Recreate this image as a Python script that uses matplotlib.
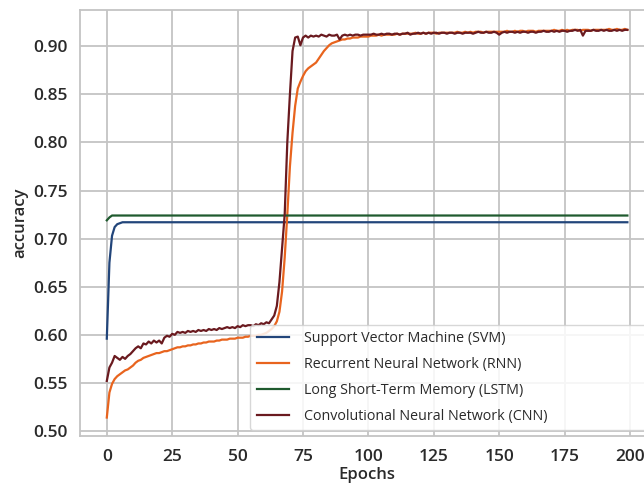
import matplotlib
matplotlib.use("Agg")
import matplotlib.pyplot as plt
from matplotlib.ticker import FormatStrFormatter

plt.rcParams['font.family'] = ['Open Sans', 'DejaVu Sans']

labels = ["Support Vector Machine (SVM)", "Recurrent Neural Network (RNN)",
          "Long Short-Term Memory (LSTM)", "Convolutional Neural Network (CNN)"]
colors = ["#22457a", "#e8641e", "#1f5a2e", "#6a1a1f"]

epochs = list(range(200))

svm_epochs = [0, 1, 2, 3, 4, 5, 6, 8, 199]
svm_acc = [0.596, 0.675, 0.703, 0.712, 0.715, 0.716, 0.717, 0.717, 0.717]

lstm_epochs = [0, 1, 2, 3, 199]
lstm_acc = [0.719, 0.722, 0.724, 0.724, 0.724]

rnn_acc = [
    0.514, 0.540, 0.549, 0.554, 0.557, 0.559, 0.561, 0.563, 0.564, 0.566,
    0.568, 0.571, 0.573, 0.574, 0.576, 0.577, 0.578, 0.579, 0.580, 0.581,
    0.581, 0.582, 0.583, 0.583, 0.584, 0.585, 0.586, 0.587, 0.587, 0.588,
    0.588, 0.589, 0.589, 0.590, 0.590, 0.591, 0.591, 0.592, 0.592, 0.593,
    0.593, 0.593, 0.594, 0.594, 0.595, 0.595, 0.595, 0.596, 0.596, 0.596,
    0.597, 0.597, 0.597, 0.598, 0.598, 0.599, 0.599, 0.599, 0.600, 0.600,
    0.601, 0.602, 0.604, 0.606, 0.609, 0.614, 0.624, 0.645, 0.680, 0.725,
    0.775, 0.810, 0.838, 0.856, 0.863, 0.869, 0.874, 0.877, 0.879, 0.881,
    0.883, 0.887, 0.891, 0.895, 0.898, 0.901, 0.903, 0.904, 0.905, 0.906,
    0.907, 0.907, 0.908, 0.908, 0.909, 0.909, 0.909, 0.910, 0.910, 0.910,
    0.910, 0.911, 0.911, 0.911, 0.912, 0.911, 0.912, 0.912, 0.912, 0.912,
    0.912, 0.913, 0.912, 0.913, 0.913, 0.913, 0.913, 0.913, 0.914, 0.913,
    0.913, 0.914, 0.913, 0.914, 0.914, 0.914, 0.913, 0.914, 0.914, 0.914,
    0.914, 0.914, 0.914, 0.914, 0.915, 0.914, 0.914, 0.915, 0.914, 0.915,
    0.914, 0.915, 0.915, 0.915, 0.914, 0.915, 0.915, 0.915, 0.915, 0.915,
    0.915, 0.915, 0.915, 0.916, 0.915, 0.915, 0.916, 0.915, 0.916, 0.916,
    0.915, 0.916, 0.916, 0.916, 0.915, 0.916, 0.916, 0.916, 0.916, 0.916,
    0.916, 0.917, 0.916, 0.916, 0.917, 0.916, 0.917, 0.916, 0.917, 0.917,
    0.917, 0.916, 0.917, 0.917, 0.917, 0.916, 0.917, 0.917, 0.917, 0.917,
    0.917, 0.917, 0.918, 0.917, 0.917, 0.918, 0.917, 0.917, 0.918, 0.917,
]

cnn_acc = [
    0.552, 0.566, 0.571, 0.578, 0.576, 0.574, 0.577, 0.575, 0.578, 0.580,
    0.583, 0.586, 0.588, 0.586, 0.591, 0.590, 0.593, 0.591, 0.594, 0.592,
    0.594, 0.591, 0.597, 0.599, 0.598, 0.601, 0.600, 0.603, 0.602, 0.603,
    0.602, 0.604, 0.603, 0.604, 0.603, 0.605, 0.604, 0.605, 0.604, 0.606,
    0.605, 0.606, 0.605, 0.607, 0.606, 0.607, 0.608, 0.607, 0.608, 0.607,
    0.609, 0.608, 0.610, 0.609, 0.610, 0.610, 0.609, 0.611, 0.610, 0.612,
    0.611, 0.613, 0.612, 0.616, 0.620, 0.630, 0.655, 0.690, 0.725, 0.800,
    0.850, 0.895, 0.909, 0.910, 0.901, 0.909, 0.911, 0.909, 0.911, 0.910,
    0.911, 0.910, 0.912, 0.911, 0.910, 0.912, 0.911, 0.911, 0.912, 0.907,
    0.911, 0.912, 0.911, 0.912, 0.911, 0.912, 0.912, 0.911, 0.912, 0.912,
    0.912, 0.912, 0.913, 0.912, 0.912, 0.913, 0.912, 0.913, 0.913, 0.912,
    0.913, 0.913, 0.912, 0.913, 0.913, 0.914, 0.912, 0.913, 0.913, 0.914,
    0.913, 0.914, 0.913, 0.914, 0.913, 0.914, 0.914, 0.913, 0.914, 0.914,
    0.913, 0.914, 0.914, 0.913, 0.914, 0.914, 0.913, 0.914, 0.914, 0.914,
    0.913, 0.914, 0.915, 0.914, 0.914, 0.915, 0.914, 0.914, 0.915, 0.914,
    0.912, 0.914, 0.915, 0.914, 0.915, 0.915, 0.914, 0.915, 0.914, 0.915,
    0.915, 0.914, 0.915, 0.915, 0.914, 0.915, 0.915, 0.916, 0.915, 0.915,
    0.916, 0.915, 0.916, 0.915, 0.916, 0.916, 0.915, 0.916, 0.916, 0.917,
    0.916, 0.917, 0.911, 0.916, 0.916, 0.916, 0.917, 0.916, 0.916, 0.917,
    0.916, 0.917, 0.916, 0.916, 0.917, 0.916, 0.917, 0.916, 0.917, 0.917,
]

x_ticks = [0, 25, 50, 75, 100, 125, 150, 175, 200]
y_ticks = [0.50, 0.55, 0.60, 0.65, 0.70, 0.75, 0.80, 0.85, 0.90]

fig = plt.figure(figsize=(6.44, 4.87), dpi=100)
ax = fig.add_axes([0.124, 0.1047, 0.89, 0.8743])

ax.grid(True, color="#c4c4c4", linewidth=1.3)
ax.set_axisbelow(True)
for s in ax.spines.values():
    s.set_color("#c4c4c4")
    s.set_linewidth(1.3)

lw = 1.6
ax.plot(svm_epochs, svm_acc, color=colors[0], lw=lw, label=labels[0])
ax.plot(epochs, rnn_acc, color=colors[1], lw=lw, label=labels[1])
ax.plot(lstm_epochs, lstm_acc, color=colors[2], lw=lw, label=labels[2])
ax.plot(epochs, cnn_acc, color=colors[3], lw=lw, label=labels[3])

ax.set_xlim(-10.3, 208.8)
ax.set_ylim(0.4948, 0.9374)
ax.set_xticks(x_ticks)
ax.set_yticks(y_ticks)
ax.yaxis.set_major_formatter(FormatStrFormatter('%.2f'))
ax.tick_params(axis='both', length=0, labelsize=12.5, colors="#2a2a2a")
ax.tick_params(axis='y', pad=9)
ax.tick_params(axis='x', pad=9)
for t in ax.get_xticklabels() + ax.get_yticklabels():
    t.set_fontweight("semibold")

ax.set_xlabel("Epochs", fontsize=12, color="#2a2a2a", labelpad=2,
              fontweight="semibold")
ax.set_ylabel("accuracy", fontsize=12, color="#2a2a2a", labelpad=3,
              fontweight="semibold")

leg = ax.legend(loc="lower left", bbox_to_anchor=(0.297, 0.014, 0.70, 0.25),
                mode="expand", prop={"size": 10.3, "weight": "medium"},
                framealpha=0.85, edgecolor="#d0d0d0", fancybox=True,
                handlelength=2.3, handletextpad=1.0, borderpad=0.45,
                labelspacing=0.75, borderaxespad=0)
for t in leg.get_texts():
    t.set_color("#2a2a2a")

fig.savefig("out.png", dpi=100)
